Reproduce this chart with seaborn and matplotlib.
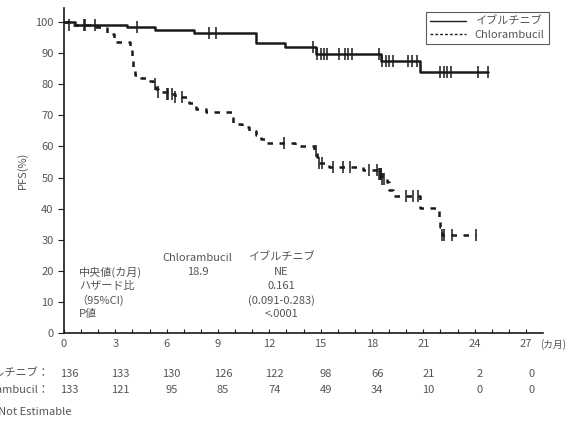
import numpy as np
import pandas as pd
import matplotlib
matplotlib.use('Agg')
import matplotlib.pyplot as plt
import seaborn as sns
from matplotlib.lines import Line2D

# step points (month, PFS %)
ibr_time = [0, 0.65, 3.67, 5.3, 7.6, 11.2, 12.9, 14.7, 18.5, 20.8, 24.8]
ibr_surv = [100, 99.0, 98.3, 97.5, 96.6, 93.2, 92.0, 89.8, 87.4, 84.0, 84.0]
ibr_cens = [1.2, 1.8, 4.25, 8.45, 8.9, 14.55, 14.8, 15.0, 15.2, 15.35, 16.1, 16.4, 16.6, 16.85,
            18.4, 18.6, 18.8, 19.0, 19.2, 20.1, 20.35, 20.6, 22.0, 22.2, 22.4, 22.6, 24.2, 24.8]

chl_time = [0, 0.3, 1.9, 2.5, 2.9, 3.85, 3.95, 4.05, 4.15, 4.5, 4.9, 5.2, 5.35, 5.5, 6.0, 6.5,
            7.3, 7.7, 8.3, 9.9, 10.4, 10.8, 11.2, 11.5, 11.8, 13.5, 14.6, 14.8, 14.9, 15.5,
            17.5, 18.4, 18.6, 18.9, 19.0, 19.2, 20.8, 21.9, 22.0, 22.1, 24.1]
chl_surv = [100, 99.2, 98.3, 96.3, 93.6, 91.0, 88.0, 85.5, 83.0, 82.0, 81.0, 80.0, 78.5, 77.5,
            76.8, 75.8, 74.0, 72.0, 71.0, 67.2, 66.4, 65.0, 63.8, 62.5, 61.0, 60.0, 58.5, 56.5,
            54.8, 53.5, 52.3, 51.0, 49.5, 48.7, 46.1, 44.1, 40.3, 37.0, 34.0, 31.6, 31.6]
chl_cens = [0.3, 1.25, 5.3, 5.5, 6.0, 6.1, 6.3, 6.5, 6.9, 12.85, 14.7, 14.9, 15.1, 15.7, 16.3,
            16.7, 17.8, 18.3, 18.4, 18.45, 18.5, 18.55, 18.6, 18.7, 20.0, 20.4, 20.7, 22.1,
            22.2, 22.7, 24.1]

arms = ['イブルチニブ', 'Chlorambucil']
risk_times = [0, 3, 6, 9, 12, 15, 18, 21, 24, 27]
risk_ibr = [136, 133, 130, 126, 122, 98, 66, 21, 2, 0]
risk_chl = [133, 121, 95, 85, 74, 49, 34, 10, 0, 0]

sns.set_style('ticks')
plt.rcParams['font.family'] = ['Noto Sans CJK JP', 'DejaVu Sans']
gray = '#555555'
ink = '#1a1a1a'

df = pd.concat([
    pd.DataFrame({'month': ibr_time, 'pfs': ibr_surv, 'arm': arms[0]}),
    pd.DataFrame({'month': chl_time, 'pfs': chl_surv, 'arm': arms[1]}),
])


def step_at(times, surv, t):
    i = np.searchsorted(times, t, side='right') - 1
    return np.array(surv)[i]


cens = pd.concat([
    pd.DataFrame({'month': ibr_cens, 'pfs': step_at(ibr_time, ibr_surv, ibr_cens)}),
    pd.DataFrame({'month': chl_cens, 'pfs': step_at(chl_time, chl_surv, chl_cens)}),
])

fig = plt.figure(figsize=(5.76, 4.23), dpi=100)
ax = fig.add_axes([0.111, 0.2128, 0.832, 0.768])

sns.lineplot(data=df, x='month', y='pfs', style='arm', style_order=arms,
             dashes={arms[0]: '', arms[1]: (2.2, 2.6)}, color=ink, lw=1.8,
             estimator=None, drawstyle='steps-post', legend=False, ax=ax)
sns.scatterplot(data=cens, x='month', y='pfs', marker='|', s=70, color=ink,
                linewidth=1.1, legend=False, ax=ax)

ax.set_xlim(0, 28)
ax.set_ylim(0, 104.5)
ax.set_xticks(risk_times)
ax.set_xticks(np.arange(0, 28, 1), minor=True)
ax.set_yticks(np.arange(0, 101, 10))
ax.tick_params(axis='x', which='both', direction='in', length=3, width=0.8,
               colors=ink, labelcolor=gray, labelsize=8, pad=4)
ax.tick_params(axis='y', direction='out', length=4, width=0.8, colors=ink,
               labelcolor=gray, labelsize=8)
ax.set_xlabel('')
ax.set_ylabel('PFS(%)', color=gray, fontsize=8, labelpad=5)
sns.despine(ax=ax)
for sp in ['left', 'bottom']:
    ax.spines[sp].set_linewidth(1.2)
    ax.spines[sp].set_color(ink)
ax.text(27.85, -3.6, '(カ月)', fontsize=7, color=gray, ha='left', va='center')

# legend
handles = [Line2D([], [], color=ink, lw=1.0),
           Line2D([], [], color=ink, lw=1.0, ls=(0, (2, 1.5)))]
leg = fig.legend(handles, arms, loc='upper right', bbox_to_anchor=(0.963, 0.985),
                 fontsize=8, frameon=True, fancybox=False, handlelength=3.2,
                 borderpad=0.4, labelspacing=0.3, handletextpad=0.8)
leg.get_frame().set_edgecolor('#333333')
leg.get_frame().set_linewidth(0.8)
for t in leg.get_texts():
    t.set_color(gray)

# summary table
tf = dict(fontsize=8, color=gray)
ax.text(7.8, 24.2, 'Chlorambucil', ha='center', va='center', **tf)
ax.text(12.7, 24.2, 'イブルチニブ', ha='center', va='center', **tf)
rows = ['中央値(カ月)', 'ハザード比', '（95%CI)', 'P値']
vals_chl = ['18.9', '', '', '']
vals_ibr = ['NE', '0.161', '(0.091-0.283)', '<.0001']
for i, (lab, a, b) in enumerate(zip(rows, vals_chl, vals_ibr)):
    y = 19.5 - i * 4.5
    ax.text(0.9 if i != 2 else 0.7, y, lab, ha='left', va='center', **tf)
    ax.text(7.8, y, a, ha='center', va='center', **tf)
    ax.text(12.7, y, b, ha='center', va='center', **tf)

# number at risk
trans = ax.get_xaxis_transform()
for row, (lab, vals) in enumerate(zip(arms, [risk_ibr, risk_chl])):
    y = -0.125 - row * 0.05
    ax.text(-0.85, y, lab + '：', ha='right', va='center', transform=trans,
            clip_on=False, **tf)
    for t, v in zip(risk_times, vals):
        ax.text(t + 0.3, y, str(v), ha='center', va='center', transform=trans,
                clip_on=False, **tf)

fig.text(-0.038, 0.025, 'NE: Not Estimable', ha='left', va='center', **tf)

fig.savefig('out.png', dpi=100)
